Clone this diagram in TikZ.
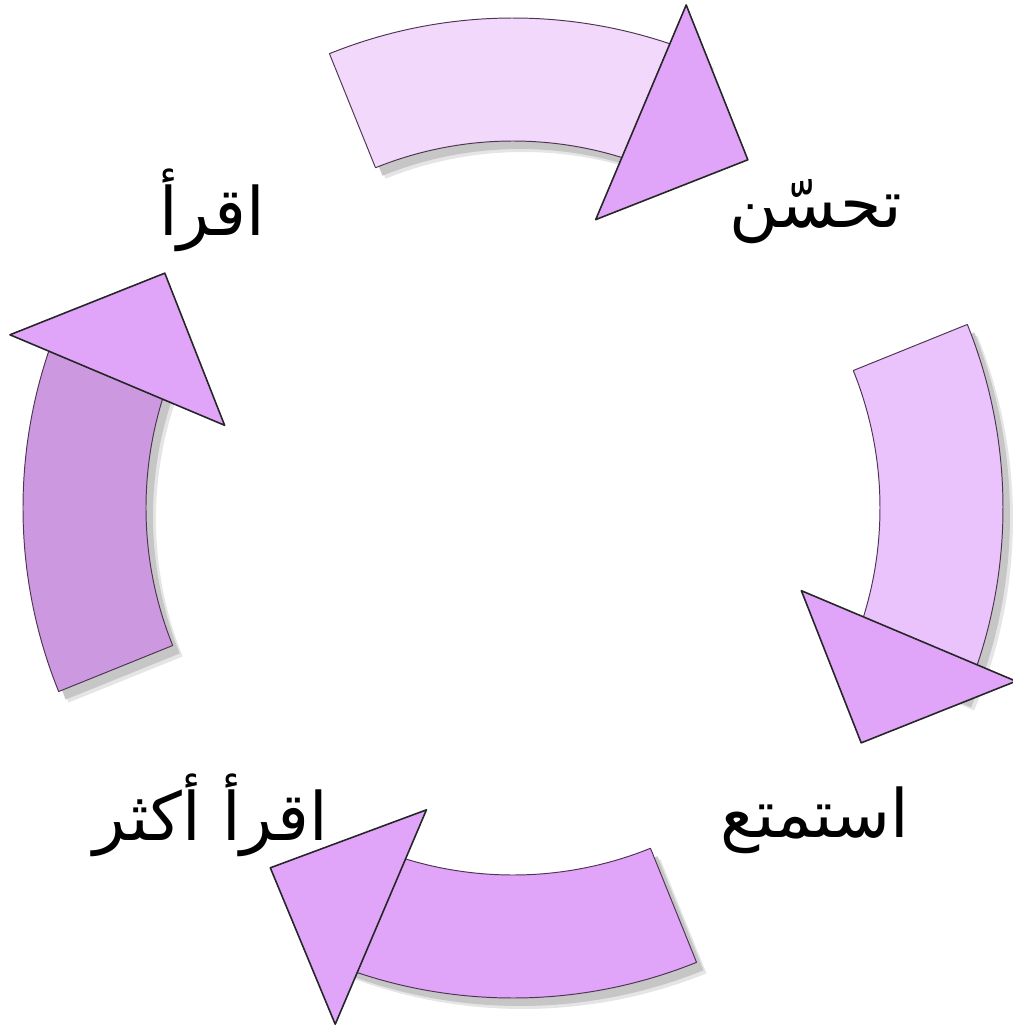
\documentclass[tikz,border=0pt]{standalone}
\usepackage{fontspec}
\newfontfamily\arabicfont[Script=Arabic]{DejaVu Sans}
\TeXXeTstate=1
\usetikzlibrary{calc}
\definecolor{edge}{HTML}{4E3552}
\definecolor{shade}{HTML}{C6C6C6}
\definecolor{headfill}{HTML}{E0A4F8}
\definecolor{tintTop}{HTML}{F2D9FC}
\definecolor{tintRight}{HTML}{EAC2FC}
\definecolor{tintBottom}{HTML}{E0A4F8}
\definecolor{tintLeft}{HTML}{CC99E0}

\begin{document}
\begin{tikzpicture}[x=.02cm,y=.02cm,
  body/.style={draw=edge,line width=.55pt,line join=round},
  head/.style={draw=black!85,fill=headfill,line width=.9pt,line join=round},
  shadow/.style={fill=shade},
  word/.style={font=\arabicfont\fontsize{38}{46}\selectfont,text=black,inner sep=0pt}
]
\useasboundingbox (-513,-524) rectangle (500,508);
% four curved arrows, clockwise, tails 90 degrees apart
\foreach \t/\c/\d in {112/tintTop/0,22/tintRight/0,-68/tintBottom/14,202/tintLeft/0}{
  \fill[shadow,opacity=.45,shift={(10,-11)}] (\t:490)
    arc[start angle=\t,end angle=\t-45,radius=490]
    -- ({\t-45}:367) arc[start angle=\t-45,end angle=\t,radius=367] -- cycle;
  \fill[shadow,shift={(7,-8)}] (\t:490)
    arc[start angle=\t,end angle=\t-45,radius=490]
    -- ({\t-45}:367) arc[start angle=\t-45,end angle=\t,radius=367] -- cycle;
  \filldraw[body,fill=\c] (\t:490)
    arc[start angle=\t,end angle=\t-45,radius=490]
    -- ({\t-45}:367) arc[start angle=\t-45,end angle=\t,radius=367] -- cycle;
  \filldraw[head] ({\t-41}:532+\d) -- ({\t-56}:420+\d) -- ({\t-38}:300+\d) -- cycle;
}
\node[word] (improve) at (303,296) {\beginR تحسّن\endR};
\node[word] (read) at (-301,298) {\beginR اقرأ\endR};
\node[word] (enjoy) at (302,-312) {\beginR استمتع\endR};
\node[word] (readmore) at (-302,-307) {\beginR اقرأ أكثر\endR};
\end{tikzpicture}
\end{document}
